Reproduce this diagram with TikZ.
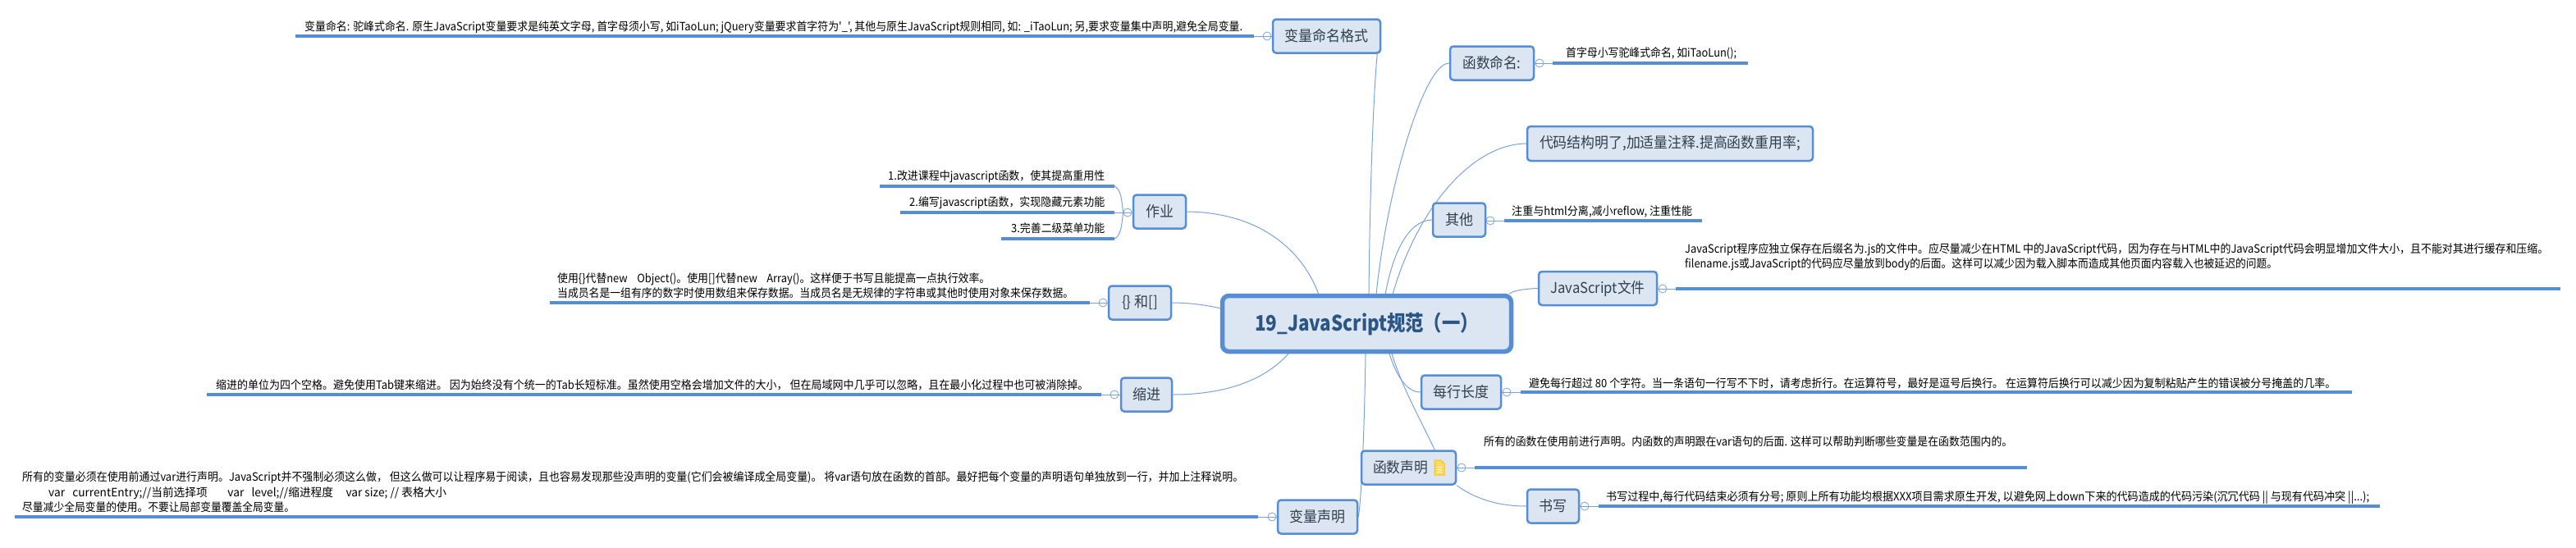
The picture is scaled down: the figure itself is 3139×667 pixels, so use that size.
\documentclass[tikz,border=0pt]{standalone}
\usepackage{fontspec}
\usepackage{graphicx}
\usetikzlibrary{calc}
\newfontfamily\cjkf{Noto Sans CJK SC}
\newcommand{\fw}[2]{\resizebox{#1pt}{\height}{#2}}
\definecolor{boxfill}{HTML}{DCE6F2}
\definecolor{boxline}{HTML}{558ED5}
\definecolor{connline}{HTML}{7AA3DE}
\definecolor{labelc}{HTML}{333F50}
\definecolor{rootc}{HTML}{2A5585}
\definecolor{iconline}{HTML}{FFC000}
\definecolor{iconfill}{HTML}{FFD966}
\pgfdeclarelayer{bg}
\pgfsetlayers{bg,main}
\tikzset{
  every node/.style={font=\cjkf},
  topic/.style={draw=boxline,fill=boxfill,line width=2.5pt,rounded corners=4pt,inner sep=0pt,text=labelc,font=\cjkf\fontsize{18pt}{21pt}\selectfont},
  rootbox/.style={draw=boxline,fill=boxfill,line width=5.5pt,rounded corners=8pt,inner sep=0pt,text=rootc,font=\cjkf\bfseries\fontsize{26pt}{30pt}\selectfont},
  leaftext/.style={inner sep=0pt,anchor=base west,text=black,font=\cjkf\fontsize{14pt}{17pt}\selectfont},
  leafline/.style={draw=boxline,line width=3.2pt},
  conn/.style={draw=connline,line width=1pt},
  coll/.style={circle,draw=connline,fill=white,line width=.8pt,minimum size=10pt,inner sep=0pt,
    path picture={\draw[connline,line width=.8pt] (path picture bounding box.west)--(path picture bounding box.east);}},
}
\begin{document}
\begin{tikzpicture}[x=1pt,y=-1pt]
\useasboundingbox (0,0) rectangle (3139,667);
\begin{pgfonlayer}{bg}
\fill[white] (0,0) rectangle (3139,667);
\end{pgfonlayer}

% root
\node[rootbox,minimum width=352pt,minimum height=68pt] (root) at (1665.5,394.5) {\fw{273}{19\_JavaScript规范（一）}};
\coordinate (r1) at (1668,359);
\coordinate (r2) at (1677,359);
\coordinate (r3) at (1688,359);
\coordinate (r4) at (1697,359);
\coordinate (r5) at (1607,359);
\coordinate (r6) at (1488,376);
\coordinate (r7) at (1570,431);
\coordinate (r8) at (1664,431);
\coordinate (r9) at (1693,431);
\coordinate (r10) at (1696,431);
\coordinate (r11) at (1839,358);

% topics
\node[topic,minimum width=131pt,minimum height=41pt] (vn) at (1616.5,44) {\fw{102}{变量命名格式}};
\node[topic,minimum width=102pt,minimum height=41pt] (fn) at (1818,77) {\fw{71}{函数命名:}};
\node[topic,minimum width=348pt,minimum height=42pt] (code) at (2035,175) {\fw{318}{代码结构明了,加适量注释.提高函数重用率;}};
\node[topic,minimum width=64pt,minimum height=41pt] (hw) at (1413,258) {\fw{34}{作业}};
\node[topic,minimum width=64pt,minimum height=41pt] (other) at (1778,268) {\fw{34}{其他}};
\node[topic,minimum width=144pt,minimum height=41pt] (js) at (1947,351.5) {\fw{115}{JavaScript文件}};
\node[topic,minimum width=76pt,minimum height=41pt] (br) at (1389,369) {\fw{44}{\{\} 和[]}};
\node[topic,minimum width=62pt,minimum height=41pt] (ind) at (1397,481) {\fw{34}{缩进}};
\node[topic,minimum width=97pt,minimum height=41pt] (len) at (1780.5,478) {\fw{68}{每行长度}};
\node[topic,minimum width=115pt,minimum height=41pt] (fd) at (1716.5,570) {};
\node[inner sep=0pt,text=labelc,font=\cjkf\fontsize{18pt}{21pt}\selectfont] (fdt) at (1706.5,570) {\fw{67}{函数声明}};
\node[topic,minimum width=63pt,minimum height=41pt] (wr) at (1892.5,617) {\fw{34}{书写}};
\node[topic,minimum width=97pt,minimum height=41pt] (vd) at (1605.5,630) {\fw{68}{变量声明}};

% note icon
\filldraw[draw=iconline,fill=iconfill,line width=1pt] (1748,561) -- (1756,561) -- (1760,565) -- (1760,579) -- (1748,579) -- cycle;
\draw[white,line width=1pt] (1751,569) -- (1757,569) (1751,572) -- (1757,572) (1751,575) -- (1757,575);

% collapse markers
\node[coll] (cvn) at (1544,44) {};
\node[coll] (cfn) at (1876,77) {};
\node[coll] (chw) at (1374,259) {};
\node[coll] (cother) at (1816,269) {};
\node[coll] (cjs) at (2026,352) {};
\node[coll] (cbr) at (1344,369) {};
\node[coll] (cind) at (1358,481) {};
\node[coll] (clen) at (1836,478) {};
\node[coll] (cfd) at (1781,570) {};
\node[coll] (cwr) at (1931,617) {};
\node[coll] (cvd) at (1550,630) {};

% branch line end points
\coordinate (lvn1) at (360,44);   \coordinate (lvn2) at (1528,44);
\coordinate (lfn1) at (1892,77);  \coordinate (lfn2) at (2130,77);
\coordinate (lh1a) at (1072,227); \coordinate (lh1b) at (1358,227);
\coordinate (lh2a) at (1097,259); \coordinate (lh2b) at (1358,259);
\coordinate (lh3a) at (1220,291); \coordinate (lh3b) at (1358,291);
\coordinate (lot1) at (1833,269); \coordinate (lot2) at (2074,269);
\coordinate (ljs1) at (2042,352); \coordinate (ljs2) at (3120,352);
\coordinate (lbr1) at (670,369);  \coordinate (lbr2) at (1328,369);
\coordinate (lin1) at (252,481);  \coordinate (lin2) at (1342,481);
\coordinate (lle1) at (1853,478); \coordinate (lle2) at (2866,478);
\coordinate (lfd1) at (1797,570); \coordinate (lfd2) at (2470,570);
\coordinate (lwr1) at (1948,617); \coordinate (lwr2) at (2900,617);
\coordinate (lvd1) at (18,630);   \coordinate (lvd2) at (1533,630);
\foreach \a/\b in {lvn1/lvn2,lfn1/lfn2,lh1a/lh1b,lh2a/lh2b,lh3a/lh3b,lot1/lot2,ljs1/ljs2,lbr1/lbr2,lin1/lin2,lle1/lle2,lfd1/lfd2,lwr1/lwr2,lvd1/lvd2}
  \draw[leafline] (\a) -- (\b);

% texts
\node[leaftext] (tvn) at (371,37) {\fw{1143}{变量命名: 驼峰式命名. 原生JavaScript变量要求是纯英文字母, 首字母须小写, 如iTaoLun; jQuery变量要求首字符为'\_', 其他与原生JavaScript规则相同, 如: \_iTaoLun; 另,要求变量集中声明,避免全局变量.}};
\node[leaftext] (tfn) at (1908,69) {\fw{208}{首字母小写驼峰式命名, 如iTaoLun();}};
\node[leaftext] (th1) at (1082,219) {\fw{264}{1.改进课程中javascript函数，使其提高重用性}};
\node[leaftext] (th2) at (1108,251) {\fw{238}{2.编写javascript函数，实现隐藏元素功能}};
\node[leaftext] (th3) at (1232,283) {\fw{114}{3.完善二级菜单功能}};
\node[leaftext] (tot) at (1842,262) {\fw{220}{注重与html分离,减小reflow, 注重性能}};
\node[leaftext] (tjs1) at (2053,308) {\fw{1052}{JavaScript程序应独立保存在后缀名为.js的文件中。应尽量减少在HTML 中的JavaScript代码，因为存在与HTML中的JavaScript代码会明显增加文件大小，且不能对其进行缓存和压缩。}};
\node[leaftext] (tjs2) at (2053,326) {\fw{722}{filename.js或JavaScript的代码应尽量放到body的后面。这样可以减少因为载入脚本而造成其他页面内容载入也被延迟的问题。}};
\node[leaftext] (tbr1) at (679,344) {\fw{527}{使用\{\}代替new~~~~Object()。使用[]代替new~~~~Array()。这样便于书写且能提高一点执行效率。}};
\node[leaftext] (tbr2) at (679,362) {\fw{629}{当成员名是一组有序的数字时使用数组来保存数据。当成员名是无规律的字符串或其他时使用对象来保存数据。}};
\node[leaftext] (tin) at (263,474) {\fw{1063}{缩进的单位为四个空格。避免使用Tab键来缩进。 因为始终没有个统一的Tab长短标准。虽然使用空格会增加文件的大小， 但在局域网中几乎可以忽略，且在最小化过程中也可被消除掉。}};
\node[leaftext] (tle) at (1863,472) {\fw{983}{避免每行超过 80 个字符。当一条语句一行写不下时，请考虑折行。在运算符号，最好是逗号后换行。 在运算符后换行可以减少因为复制粘贴产生的错误被分号掩盖的几率。}};
\node[leaftext] (tfd) at (1808,543) {\fw{644}{所有的函数在使用前进行声明。内函数的声明跟在var语句的后面. 这样可以帮助判断哪些变量是在函数范围内的。}};
\node[leaftext] (twr) at (1957,610) {\fw{930}{书写过程中,每行代码结束必须有分号; 原则上所有功能均根据XXX项目需求原生开发, 以避免网上down下来的代码造成的代码污染(沉冗代码 || 与现有代码冲突 ||...);}};
\node[leaftext] (tvd1) at (27,586) {\fw{1488}{所有的变量必须在使用前通过var进行声明。JavaScript并不强制必须这么做， 但这么做可以让程序易于阅读，且也容易发现那些没声明的变量(它们会被编译成全局变量)。 将var语句放在函数的首部。最好把每个变量的声明语句单独放到一行，并加上注释说明。}};
\node[leaftext] (tvd2) at (59,605) {\fw{485}{var~~~currentEntry;//当前选择项~~~~~~~~var~~~level;//缩进程度~~~~~var size; // 表格大小}};
\node[leaftext] (tvd3) at (27,623) {\fw{332}{尽量减少全局变量的使用。不要让局部变量覆盖全局变量。}};

% connectors
\begin{pgfonlayer}{bg}
\draw[conn] ($(vn.south east)+(-5,0)$) .. controls (1673,120) and (1669,250) .. (r1);
\draw[conn] (fn.west) .. controls (1735,77) and (1690,230) .. (r2);
\draw[conn] (code.west) .. controls (1790,176) and (1725,260) .. (r4);
\draw[conn] (other.west) .. controls (1715,269) and (1697,310) .. (r3);
\draw[conn] (js.west) .. controls (1858,352) and (1845,354) .. (r11);
\draw[conn] (hw.east) .. controls (1530,259) and (1585,300) .. (r5);
\draw[conn] (br.east) .. controls (1450,369) and (1470,372) .. (r6);
\draw[conn] (ind.east) .. controls (1490,481) and (1540,465) .. (r7);
\draw[conn] (len.west) .. controls (1715,478) and (1702,460) .. (r9);
\draw[conn] ($(fd.north east)+(-27,0)$) .. controls (1725,500) and (1708,470) .. (r10);
\draw[conn] (vd.east) .. controls (1660,600) and (1663,500) .. (r8);
\draw[conn] (fd.south east) .. controls (1800,610) and (1830,617) .. (wr.west);
% markers to boxes and to branch lines
\foreach \a/\b in {vn/cvn,fn/cfn,hw/chw,other/cother,js/cjs,br/cbr,ind/cind,len/clen,fd/cfd,wr/cwr,vd/cvd}
  \draw[conn] (\a) -- (\b);
\draw[conn] (cvn) -- (lvn2);
\draw[conn] (cfn) -- (lfn1);
\draw[conn] (cother) -- (lot1);
\draw[conn] (cjs) -- (ljs1);
\draw[conn] (cbr) -- (lbr2);
\draw[conn] (cind) -- (lin2);
\draw[conn] (clen) -- (lle1);
\draw[conn] (cfd) -- (lfd1);
\draw[conn] (cwr) -- (lwr1);
\draw[conn] (cvd) -- (lvd2);
\draw[conn] (chw) -- (lh2b);
\draw[conn] (lh1b) .. controls (1366,230) and (1367,245) .. (chw.west);
\draw[conn] (lh3b) .. controls (1366,288) and (1367,273) .. (chw.west);
\end{pgfonlayer}
\end{tikzpicture}
\end{document}
